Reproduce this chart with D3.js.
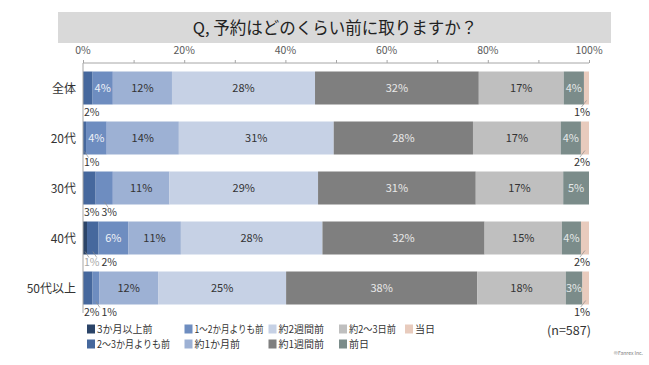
<!DOCTYPE html>
<html><head><meta charset="utf-8">
<script src="https://cdn.jsdelivr.net/npm/d3@7"></script>
<style>
html,body{margin:0;padding:0;background:#fff;}
svg{display:block;font-family:"Noto Sans CJK JP","Noto Sans",sans-serif;}
</style></head>
<body>
<svg id="chart" width="649" height="365"></svg>
<script>
const title = "Q, 予約はどのくらい前に取りますか？";
const categories = ["全体","20代","30代","40代","50代以上"];
const seriesNames = ["3か月以上前","2～3か月よりも前","1～2か月よりも前","約1か月前","約2週間前","約1週間前","約2～3日前","前日","当日"];
const v3monthsPlus = [0, 0, 0, 0.8, 0];
const v2to3months  = [1.9, 0.6, 2.5, 2.3, 1.9];
const v1to2months  = [4.0, 4.1, 3.4, 5.9, 1.3];
const v1month      = [11.7, 14.3, 11.2, 10.5, 11.7];
const v2weeks      = [28.3, 30.7, 29.4, 28.2, 25.4];
const v1week       = [32.4, 27.6, 31.2, 32.3, 37.9];
const v2to3days    = [16.8, 17.4, 17.3, 15.4, 17.6];
const vDayBefore   = [4.0, 4.0, 5.1, 3.8, 3.3];
const vSameDay     = [1.0, 1.6, 0, 1.6, 1.3];
const tickValues = [0,10,20,30,40,50,60,70,80,90,100];
const tickLabels = ["0%","20%","40%","60%","80%","100%"];
const sampleNote = "(n=587)";
const copyright = "©Fanrex Inc.";

const allValues = [v3monthsPlus,v2to3months,v1to2months,v1month,v2weeks,v1week,v2to3days,vDayBefore,vSameDay];
const colors = ["#2b4468","#46689d","#6e8dc0","#9db1d4","#c6d1e5","#7f7f7f","#bfbfbf","#7b8c8a","#e8cbbd"];
const labelColors = ["#fff","#f0f0f0","#eef2f8","#333","#333","#e8e8e8","#333","#e4e8e8","#333"];

const svg = d3.select("#chart");

// title box
svg.append("rect").attr("x",58).attr("y",12).attr("width",553).attr("height",31).attr("fill","#d9d9d9");
svg.append("text").attr("x",335).attr("y",33.5).attr("text-anchor","middle")
  .attr("font-size",16.5).attr("fill","#222").text(title);

// data table
const rows = categories.map((c,i)=>{
  const o = {cat:c};
  seriesNames.forEach((s,j)=>{o[s]=allValues[j][i];});
  return o;
});
const stack = d3.stack().keys(seriesNames).offset(d3.stackOffsetExpand);
const stacked = stack(rows);

const x = d3.scaleLinear().domain([0,1]).range([83,589]);
const y = d3.scaleBand().domain(categories).range([63,313]).paddingInner(0.34).paddingOuter(0.17);

// axis top
const xAxisScale = d3.scaleLinear().domain([0,100]).range([83,589]);
const axisG = svg.append("g").attr("transform","translate(0,63)")
  .call(d3.axisTop(xAxisScale).tickValues(tickValues).tickSize(3).tickFormat(""));
axisG.select(".domain").attr("stroke","#a6a6a6").attr("d","M83,0H589");
axisG.selectAll(".tick line").attr("stroke","#a6a6a6");
svg.append("g").selectAll("text").data(tickLabels).join("text")
  .attr("x",(d,i)=>xAxisScale(i*20)).attr("y",54).attr("text-anchor","middle")
  .attr("font-size",10.5).attr("fill","#595959").text(d=>d);

// bars
const g = svg.append("g");
stacked.forEach((layer,j)=>{
  g.selectAll(null).data(layer).join("rect")
    .attr("x",d=>x(d[0])).attr("width",d=>Math.max(0,x(d[1])-x(d[0])))
    .attr("y",d=>y(d.data.cat)).attr("height",y.bandwidth())
    .attr("fill",colors[j]);
});

// y axis line
svg.append("line").attr("x1",83).attr("x2",83).attr("y1",63).attr("y2",313)
  .attr("stroke","#a6a6a6").attr("stroke-width",1);

// category labels
svg.append("g").selectAll("text").data(categories).join("text")
  .attr("x",76).attr("y",d=>y(d)+y.bandwidth()/2+4.5).attr("text-anchor","end")
  .attr("font-size",12).attr("fill","#333").text(d=>d);

// data labels
const lbl = svg.append("g").attr("font-size",11);
categories.forEach((c,i)=>{
  let leftIdx = 0;
  stacked.forEach((layer,j)=>{
    const d = layer[i];
    const v = allValues[j][i];
    if (!(v>0)) return;
    const txt = Math.round(v)+"%";
    const x0 = x(d[0]), x1 = x(d[1]), cx=(x0+x1)/2;
    const yTop = y(c), yBot = y(c)+y.bandwidth();
    if (j<=2 && v<3.6) {
      const lx = 84 + leftIdx*17.5;
      leftIdx++;
      const lc = lx+6.5;
      if (Math.abs(lc-cx)>3.5) {
        lbl.append("line").attr("x1",cx).attr("y1",yBot-3).attr("x2",cx+ (lc>cx?4:-4)).attr("y2",yBot+3)
          .attr("stroke","#8c8c8c").attr("stroke-width",0.7);
      }
      lbl.append("text").attr("x",lx).attr("y",yBot+11.5).attr("font-size",10.5)
        .attr("fill", j===0?"#a6a6a6":"#333").text(txt);
    } else if (j===8) {
      lbl.append("line").attr("x1",cx).attr("y1",yBot-4).attr("x2",cx-5).attr("y2",yBot+2.5)
        .attr("stroke","#8c8c8c").attr("stroke-width",0.7);
      lbl.append("text").attr("x",582).attr("y",yBot+11.5).attr("text-anchor","middle")
        .attr("fill","#333").text(txt);
    } else {
      lbl.append("text").attr("x",cx).attr("y",(yTop+yBot)/2+4).attr("text-anchor","middle")
        .attr("fill",labelColors[j]).text(txt);
    }
  });
});

// legend
const legendPos = [
  [87,329],[87,344],[184.5,329],[184.5,344],[268.5,329],[268.5,344],[339,329],[339,344],[405,329]
];
const legendTextWidth = [null,73,69,null,null,null,47,null,null];
const lg = svg.append("g").attr("font-size",10);
seriesNames.forEach((s,j)=>{
  const [lx,ly] = legendPos[j];
  lg.append("rect").attr("x",lx).attr("y",ly-4.5).attr("width",8).attr("height",9).attr("fill",colors[j]);
  const t = lg.append("text").attr("x",lx+10).attr("y",ly+4).attr("fill","#333").text(s);
  if (legendTextWidth[j]) t.attr("textLength",legendTextWidth[j]).attr("lengthAdjust","spacingAndGlyphs");
});
svg.append("text").attr("x",569).attr("y",335).attr("text-anchor","middle").attr("font-size",12.5)
  .attr("fill","#333").text(sampleNote);
svg.append("text").attr("x",643).attr("y",355).attr("text-anchor","end").attr("font-size",5)
  .attr("fill","#777").text(copyright);
</script>
</body></html>
